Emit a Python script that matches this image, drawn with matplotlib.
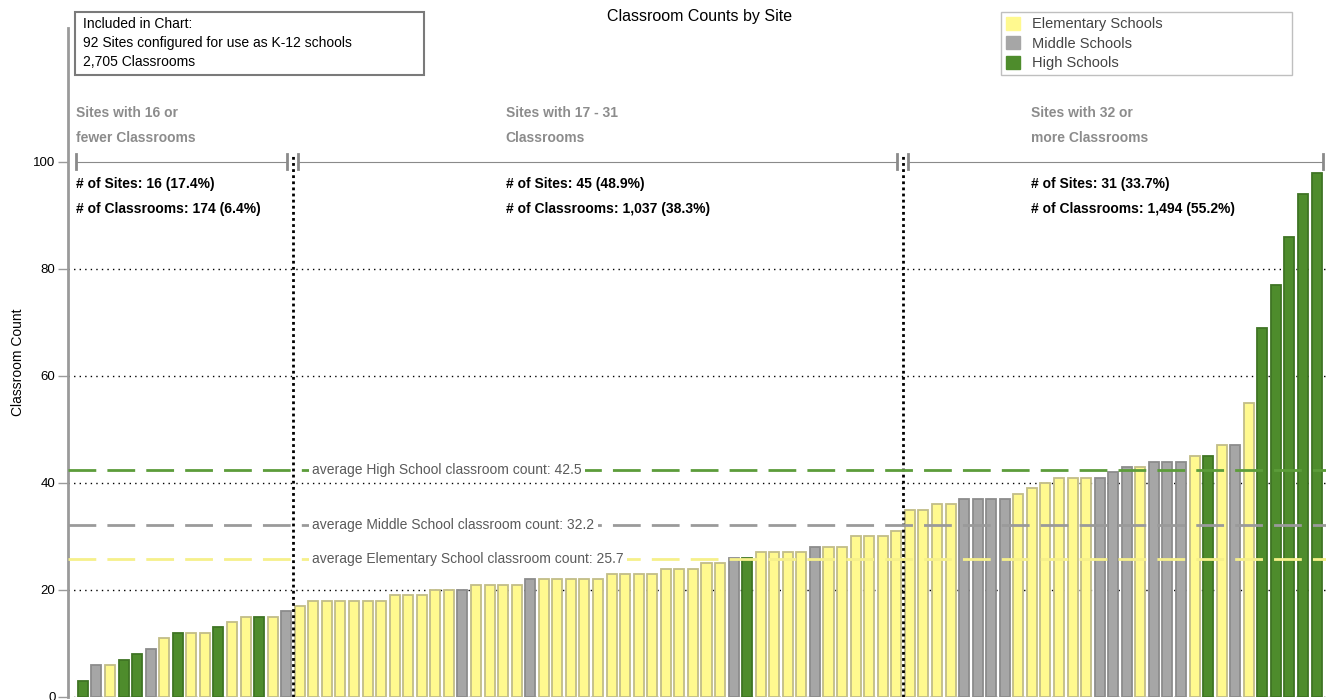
import matplotlib
matplotlib.use("Agg")
from matplotlib import pyplot as plt
from matplotlib.patches import Patch, Rectangle

plt.rcParams['font.family'] = ['Liberation Sans', 'DejaVu Sans']

# classroom count per site, sorted ascending; E = elementary, M = middle, H = high
counts = [3, 6, 6, 7, 8, 9, 11, 12, 12, 12, 13, 14, 15, 15, 15, 16,
          17, 18, 18, 18, 18, 18, 18, 19, 19, 19, 20, 20, 20, 21, 21, 21, 21,
          22, 22, 22, 22, 22, 22, 23, 23, 23, 23, 24, 24, 24, 25, 25, 26, 26,
          27, 27, 27, 27, 28, 28, 28, 30, 30, 30, 31,
          35, 35, 36, 36, 37, 37, 37, 37, 38, 39, 40, 41, 41, 41, 41, 42, 43, 43,
          44, 44, 44, 45, 45, 47, 47, 55, 69, 77, 86, 94, 98]
levels = ['H', 'M', 'E', 'H', 'H', 'M', 'E', 'H', 'E', 'E', 'H', 'E', 'E', 'H', 'E', 'M',
          'E', 'E', 'E', 'E', 'E', 'E', 'E', 'E', 'E', 'E', 'E', 'E', 'M', 'E', 'E', 'E', 'E',
          'M', 'E', 'E', 'E', 'E', 'E', 'E', 'E', 'E', 'E', 'E', 'E', 'E', 'E', 'E', 'M', 'H',
          'E', 'E', 'E', 'E', 'M', 'E', 'E', 'E', 'E', 'E', 'E',
          'E', 'E', 'E', 'E', 'M', 'M', 'M', 'M', 'E', 'E', 'E', 'E', 'E', 'E', 'M', 'M', 'M', 'E',
          'M', 'M', 'M', 'E', 'H', 'E', 'M', 'E', 'H', 'H', 'H', 'H', 'H']

group_names = ['Sites with 16 or\nfewer Classrooms', 'Sites with 17 - 31\nClassrooms',
               'Sites with 32 or\nmore Classrooms']
group_sizes = [16, 45, 31]
group_stats = ['# of Sites: 16 (17.4%)\n# of Classrooms: 174 (6.4%)',
               '# of Sites: 45 (48.9%)\n# of Classrooms: 1,037 (38.3%)',
               '# of Sites: 31 (33.7%)\n# of Classrooms: 1,494 (55.2%)']
group_text_x = [-0.5, 31.2, 69.9]

level_names = {'E': 'Elementary Schools', 'M': 'Middle Schools', 'H': 'High Schools'}
avg_values = {'H': 42.5, 'M': 32.2, 'E': 25.7}
avg_labels = {'H': 'average High School classroom count: 42.5',
              'M': 'average Middle School classroom count: 32.2',
              'E': 'average Elementary School classroom count: 25.7'}

fill = {'E': '#fff98f', 'M': '#a6a6a6', 'H': '#4e8c2c'}
edge = {'E': '#c2bd88', 'M': '#8c8c8c', 'H': '#3f7424'}
line_col = {'E': '#f6f08a', 'M': '#9a9a9a', 'H': '#5c9c3a'}

fig = plt.figure(figsize=[13.35, 7.0], dpi=100)
ax = fig.add_axes([0.0509, 0.0043, 0.9424, 0.9557])

x = list(range(len(counts)))
ax.bar(x, counts, width=0.74, color=[fill[l] for l in levels],
       edgecolor=[edge[l] for l in levels], linewidth=1.3, zorder=3)

ax.set_xlim(-1.1, 91.7)
ax.set_ylim(0, 125)
ax.set_yticks([0, 20, 40, 60, 80, 100])
ax.set_xticks([])
for s in ['top', 'right', 'bottom']:
    ax.spines[s].set_visible(False)
ax.spines['left'].set_color('#9a9a9a')
ax.spines['left'].set_linewidth(2)
ax.tick_params(axis='y', length=7, width=1, color='#9a9a9a', labelsize=9.5, pad=2)
ax.set_ylabel('Classroom Count', fontsize=10, labelpad=6)

for yv in [0, 20, 40, 60, 80]:
    ax.axhline(yv, color='black', linestyle=(0, (1, 3)), linewidth=1, zorder=1)

# group dividers, brackets and texts
start = 0
for i, n in enumerate(group_sizes):
    end = start + n - 1
    left = start - 0.5 + (0.4 if i > 0 else 0)
    right = end + 0.5 - (0.45 if i < len(group_sizes) - 1 else 0.05)
    ax.plot([left, right], [100, 100], color='#8a8a8a', linewidth=0.8, zorder=2)
    for xe in (left, right):
        ax.plot([xe, xe], [98.6, 101.4], color='#8a8a8a', linewidth=2, zorder=2)
    if i < len(group_sizes) - 1:
        ax.plot([end + 0.5, end + 0.5], [0, 101], color='black',
                linestyle=(0, (1, 1.2)), linewidth=2, zorder=4)
    ax.text(group_text_x[i], 106.8, group_names[i], fontsize=10, fontweight='bold',
            color='#8c8c8c', ha='left', va='center', linespacing=2.0)
    ax.text(group_text_x[i], 93.5, group_stats[i], fontsize=10, fontweight='bold',
            color='black', ha='left', va='center', linespacing=2.0)
    start += n

# average lines
for k in ['H', 'M', 'E']:
    ax.axhline(avg_values[k], color=line_col[k], linestyle=(0, (10, 4)), linewidth=2, zorder=5)
    ax.text(16.9, avg_values[k], avg_labels[k], fontsize=10, color='#5a5a5a', ha='left',
            va='center', zorder=6,
            bbox=dict(facecolor='white', edgecolor='none', pad=2.5))

fig.text(0.524, 0.977, 'Classroom Counts by Site', fontsize=11.5, ha='center', va='center')

# info box
fig.patches.append(Rectangle((75 / 1335, 1 - 75 / 700), 349 / 1335, 63 / 700,
                             transform=fig.transFigure, facecolor='white',
                             edgecolor='#7a7a7a', linewidth=1.5, zorder=10))
fig.text(83 / 1335, 1 - 43 / 700,
         'Included in Chart:\n92 Sites configured for use as K-12 schools\n2,705 Classrooms',
         fontsize=10, ha='left', va='center', linespacing=1.45, zorder=11)

handles = [Patch(facecolor=fill[k], edgecolor=fill[k], label=level_names[k]) for k in ['E', 'M', 'H']]
leg = fig.legend(handles=handles, loc='upper left',
                 bbox_to_anchor=(1001 / 1335, 1 - 12 / 700, 291 / 1335, 0.0),
                 mode='expand', fontsize=10.5, frameon=True, fancybox=False,
                 handlelength=1.0, handleheight=1.0, handletextpad=0.8,
                 labelspacing=0.34, borderpad=0.33, borderaxespad=0)
leg.get_frame().set_edgecolor('#b0b0b0')
for t in leg.get_texts():
    t.set_color('#444444')

fig.savefig('out.png', dpi=100)
